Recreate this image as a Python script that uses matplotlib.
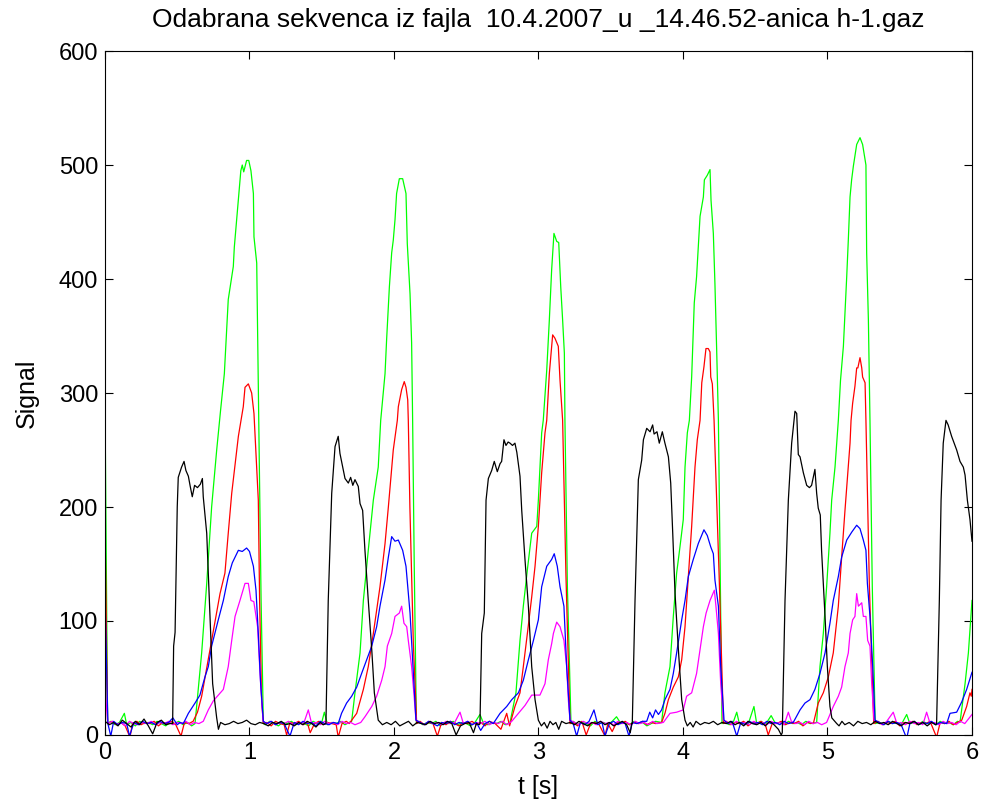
import matplotlib.pyplot as plt

plt.rcParams["font.family"] = ["Liberation Sans", "DejaVu Sans"]

# signal readings (time in s, value) per channel
t_black = [0, 0.03, 0.06, 0.09, 0.12, 0.15, 0.18, 0.21, 0.24, 0.27, 0.30, 0.33, 0.36, 0.39, 0.42, 0.45,
           0.468, 0.475, 0.485, 0.50, 0.507, 0.53, 0.547, 0.56, 0.577, 0.59, 0.604, 0.62, 0.64, 0.66, 0.674, 0.68,
           0.704, 0.722, 0.745, 0.773, 0.785, 0.80,
           0.83, 0.86, 0.89, 0.92, 0.95, 0.98, 1.01, 1.04, 1.07, 1.10, 1.13, 1.16, 1.19, 1.22, 1.25, 1.28, 1.31,
           1.34, 1.37, 1.40, 1.43, 1.46, 1.49, 1.51,
           1.529, 1.545, 1.569, 1.592, 1.614, 1.626, 1.645, 1.661, 1.684, 1.70, 1.715, 1.73, 1.753, 1.765, 1.783,
           1.799, 1.822, 1.846, 1.864, 1.891,
           1.92, 1.95, 1.98, 2.01, 2.04, 2.07, 2.10, 2.13, 2.16, 2.19, 2.22, 2.25, 2.28, 2.31, 2.34, 2.37, 2.40,
           2.43, 2.46, 2.49, 2.52, 2.55, 2.57, 2.59,
           2.595, 2.607, 2.625, 2.637, 2.653, 2.676, 2.694, 2.715, 2.734, 2.745, 2.761, 2.775, 2.79, 2.803, 2.82,
           2.837, 2.85, 2.872, 2.884, 2.907, 2.93, 2.953, 2.976, 2.999,
           3.02, 3.04, 3.06, 3.08, 3.10, 3.12, 3.14, 3.16, 3.19, 3.22, 3.25, 3.28, 3.31, 3.34, 3.37, 3.40, 3.43,
           3.46, 3.49, 3.52, 3.55, 3.58, 3.61, 3.635, 3.645,
           3.649, 3.668, 3.691, 3.714, 3.726, 3.749, 3.772, 3.79, 3.80, 3.82, 3.836, 3.857, 3.875, 3.899, 3.915,
           3.929, 3.945, 3.968, 3.991, 4.014,
           4.03, 4.05, 4.07, 4.09, 4.12, 4.15, 4.18, 4.21, 4.24, 4.27, 4.30, 4.33, 4.36, 4.39, 4.42, 4.45, 4.48,
           4.51, 4.54, 4.57, 4.60, 4.63, 4.66, 4.68,
           4.687, 4.706, 4.729, 4.752, 4.775, 4.787, 4.798, 4.81, 4.833, 4.856, 4.875, 4.89, 4.913, 4.925, 4.936,
           4.95, 4.959, 4.971, 4.983, 4.999, 5.017, 5.03, 5.064,
           5.08, 5.10, 5.12, 5.15, 5.18, 5.21, 5.24, 5.27, 5.30, 5.33, 5.36, 5.39, 5.42, 5.45, 5.48, 5.51, 5.54,
           5.57, 5.60, 5.63, 5.66, 5.69, 5.72, 5.75,
           5.755, 5.774, 5.786, 5.801, 5.82, 5.835, 5.859, 5.894, 5.917, 5.94, 5.952, 5.968, 5.986, 6.0]
v_black = [12, 9, 11, 8, 13, 10, 7, 12, 9, 14, 8, 1, 11, 13, 9, 10,
           10, 78, 90, 200, 226, 235, 240, 232, 227, 218, 209, 219, 217, 220, 225, 209,
           177, 118, 45, 15, 5, 11,
           9, 10, 12, 10, 11, 13, 10, 9, 11, 10, 8, 11, 10, 12, 9, 10, 8,
           11, 9, 12, 10, 7, 11, 9,
           10, 118, 212, 253, 262, 247, 235, 225, 221, 226, 219, 224, 218, 203, 197,
           162, 118, 75, 37, 13,
           9, 11, 9, 12, 8, 10, 12, 8, 11, 10, 9, 12, 10, 11, 9, 12, 10,
           0, 8, 10, 11, 2, 10, 9,
           10, 89, 107, 206, 225, 232, 240, 231, 238, 240, 259, 254, 257, 256, 254,
           256, 248, 227, 197, 153, 113, 60, 31, 13,
           8, 11, 6, 12, 9, 11, 5, 12, 10, 11, 9, 12, 10, 8, 11, 10, 12,
           9, 11, 8, 10, 12, 9, 2, 10,
           10, 118, 224, 241, 259, 269, 266, 272, 264, 266, 256, 266, 256, 244, 221,
           177, 124, 75, 31, 13,
           8, 11, 7, 12, 9, 11, 10, 12, 9, 11, 10, 12, 9, 11, 8, 12, 10,
           9, 11, 8, 12, 9, 5, 0,
           2, 118, 206, 256, 284, 282, 246, 244, 230, 219, 217, 219, 233, 212, 199,
           193, 162, 133, 104, 60, 25, 15, 10,
           8, 12, 9, 11, 8, 12, 10, 11, 9, 12, 10, 11, 9, 12, 10, 8, 11,
           10, 12, 9, 11, 8, 11, 9,
           10, 118, 206, 256, 276, 272, 262, 250, 240, 235, 228, 206, 189, 170]

t_green = [0, 0.018, 0.04, 0.07, 0.10, 0.134, 0.15, 0.18, 0.21, 0.24, 0.27, 0.30, 0.33, 0.36, 0.39, 0.42,
           0.45, 0.48, 0.51, 0.54, 0.57, 0.60, 0.623,
           0.669, 0.704, 0.738, 0.773, 0.80, 0.826, 0.853, 0.875, 0.888, 0.895, 0.92, 0.94, 0.95, 0.96, 0.98,
           0.995, 1.01, 1.027, 1.031, 1.05, 1.066, 1.08, 1.096,
           1.11, 1.14, 1.17, 1.20, 1.23, 1.26, 1.29, 1.32, 1.35, 1.38, 1.41, 1.44, 1.47, 1.50, 1.518, 1.54,
           1.57, 1.60, 1.63, 1.66, 1.69, 1.707,
           1.73, 1.765, 1.788, 1.822, 1.857, 1.891, 1.908, 1.938, 1.949, 1.968, 1.984, 1.995, 2.007, 2.018,
           2.037, 2.06, 2.083, 2.092, 2.111, 2.122, 2.129, 2.14, 2.155,
           2.17, 2.20, 2.23, 2.26, 2.29, 2.32, 2.35, 2.38, 2.41, 2.44, 2.47, 2.50, 2.53, 2.56, 2.595, 2.62,
           2.65, 2.68, 2.71, 2.74, 2.77, 2.803,
           2.844, 2.872, 2.895, 2.923, 2.953, 2.988, 2.999, 3.022, 3.033, 3.057, 3.075, 3.091, 3.107, 3.126,
           3.14, 3.154, 3.167, 3.179, 3.183, 3.20, 3.225,
           3.24, 3.27, 3.30, 3.33, 3.36, 3.39, 3.42, 3.45, 3.48, 3.51, 3.54, 3.57, 3.60, 3.63, 3.66, 3.69,
           3.72, 3.75, 3.78, 3.81, 3.852,
           3.875, 3.91, 3.933, 3.956, 3.979, 4.002, 4.014, 4.03, 4.044, 4.06, 4.078, 4.094, 4.118, 4.141,
           4.148, 4.168, 4.187, 4.194, 4.21, 4.221, 4.233, 4.245, 4.26, 4.27,
           4.29, 4.32, 4.35, 4.372, 4.39, 4.42, 4.45, 4.491, 4.51, 4.54, 4.57, 4.61, 4.64, 4.67, 4.70, 4.73,
           4.76, 4.79, 4.82, 4.85, 4.88, 4.925,
           4.948, 4.971, 4.994, 5.017, 5.029, 5.052, 5.075, 5.09, 5.11, 5.133, 5.144, 5.156, 5.167, 5.179,
           5.202, 5.225, 5.243, 5.266, 5.271, 5.283, 5.294, 5.31, 5.33,
           5.36, 5.39, 5.42, 5.45, 5.48, 5.51, 5.548, 5.57, 5.60, 5.63, 5.66, 5.69, 5.72, 5.75, 5.78, 5.81,
           5.84, 5.87, 5.90, 5.917,
           5.952, 5.975, 5.998, 6.0]
v_green = [292, 10, 12, 9, 11, 19, 9, 11, 8, 12, 10, 11, 9, 12, 10, 8,
           11, 10, 12, 9, 11, 8, 10,
           72, 133, 200, 250, 285, 317, 382, 400, 411, 428, 465, 495, 500, 494, 504,
           504, 495, 475, 437, 414, 259, 120, 10,
           9, 12, 10, 8, 11, 10, 12, 9, 11, 10, 8, 12, 10, 11, 20, 9,
           11, 10, 12, 9, 11, 12,
           37, 72, 118, 162, 206, 235, 276, 317, 347, 393, 423, 434, 452, 475,
           488, 488, 475, 431, 387, 344, 276, 150, 10,
           12, 9, 11, 10, 12, 8, 11, 10, 12, 9, 11, 10, 8, 11, 18, 10,
           9, 11, 10, 12, 9, 11,
           37, 83, 113, 145, 177, 183, 206, 265, 276, 320, 364, 408, 440, 433,
           432, 393, 364, 335, 276, 130, 10,
           12, 9, 11, 10, 8, 12, 10, 11, 9, 12, 16, 10, 11, 9, 12, 10,
           11, 8, 10, 12, 11,
           37, 60, 104, 142, 165, 189, 235, 265, 276, 314, 379, 402, 455, 472,
           487, 491, 496, 469, 440, 396, 338, 276, 120, 10,
           11, 9, 12, 20, 10, 11, 9, 25, 10, 12, 9, 17, 10, 11, 9, 12,
           10, 11, 9, 12, 10, 11,
           60, 89, 130, 177, 206, 235, 276, 311, 341, 402, 434, 472, 487, 499,
           518, 524, 518, 500, 423, 364, 276, 130, 10,
           11, 9, 12, 10, 11, 9, 18, 10, 11, 9, 12, 10, 11, 9, 12, 10,
           11, 9, 12, 11,
           45, 72, 115, 118]

t_red = [0, 0.018, 0.05, 0.08, 0.11, 0.14, 0.173, 0.19, 0.22, 0.25, 0.28, 0.31, 0.34, 0.37, 0.40, 0.43,
         0.46, 0.49, 0.526, 0.55, 0.58, 0.61, 0.64,
         0.669, 0.727, 0.796, 0.83, 0.853, 0.877, 0.923, 0.957, 0.969, 0.992, 1.015, 1.031, 1.04, 1.061, 1.07,
         1.084, 1.096,
         1.12, 1.15, 1.18, 1.21, 1.24, 1.257, 1.28, 1.31, 1.34, 1.37, 1.40, 1.42, 1.45, 1.48, 1.51, 1.54,
         1.57, 1.60, 1.614, 1.64, 1.67, 1.69,
         1.742, 1.788, 1.822, 1.857, 1.903, 1.938, 1.961, 1.995, 2.023, 2.03, 2.053, 2.071, 2.083, 2.095,
         2.099, 2.11, 2.134, 2.157,
         2.18, 2.21, 2.24, 2.27, 2.30, 2.33, 2.36, 2.39, 2.42, 2.45, 2.48, 2.51, 2.54, 2.57, 2.60, 2.63,
         2.66, 2.70,
         2.74, 2.78, 2.80, 2.837, 2.872, 2.895, 2.923, 2.953, 2.976, 2.999, 3.022, 3.045, 3.057, 3.075,
         3.098, 3.114, 3.137, 3.149, 3.167, 3.19, 3.218,
         3.24, 3.27, 3.30, 3.33, 3.36, 3.39, 3.42, 3.46, 3.48, 3.51, 3.54, 3.57, 3.60, 3.63, 3.66, 3.69,
         3.72, 3.75, 3.78, 3.81, 3.852,
         3.875, 3.899, 3.933, 3.968, 3.991, 4.014, 4.037, 4.06, 4.083, 4.099, 4.118, 4.13, 4.145, 4.159,
         4.175, 4.187, 4.192, 4.203, 4.215, 4.25, 4.28,
         4.30, 4.33, 4.36, 4.39, 4.42, 4.45, 4.48, 4.51, 4.54, 4.57, 4.59, 4.62, 4.65, 4.68, 4.71, 4.74,
         4.77, 4.80, 4.83, 4.86, 4.902,
         4.936, 4.971, 5.006, 5.04, 5.075, 5.098, 5.121, 5.156, 5.163, 5.174, 5.19, 5.202, 5.21, 5.225,
         5.237, 5.243, 5.26, 5.266, 5.29, 5.32,
         5.35, 5.38, 5.41, 5.44, 5.47, 5.50, 5.53, 5.56, 5.59, 5.62, 5.65, 5.68, 5.71, 5.755, 5.78, 5.81,
         5.84, 5.87, 5.90, 5.929,
         5.963, 5.986, 5.995, 6.0]
v_red = [185, 10, 12, 9, 11, 8, -2, 10, 12, 9, 11, 10, 12, 8, 11, 10,
         12, 9, -1, 11, 10, 12, 20,
         34, 75, 124, 142, 177, 212, 262, 288, 305, 308, 300, 282, 259, 206, 118,
         30, 10,
         11, 8, 12, 10, 9, 0, 11, 10, 12, 9, 11, 2, 10, 12, 9, 11,
         10, 9, -2, 10, 12, 10,
         19, 40, 60, 89, 130, 168, 200, 250, 276, 288, 303, 310, 305, 294,
         276, 200, 80, 10,
         12, 9, 11, 10, -1, 11, 9, 12, 10, 8, 11, 10, 12, 9, 11, 8,
         12, 10,
         5, 19, 8, 25, 37, 60, 89, 121, 148, 183, 230, 265, 276, 317,
         351, 348, 341, 311, 276, 140, 10,
         11, 8, 12, 0, 10, 11, 9, -1, 10, 3, 11, 10, 12, 9, 11, 10,
         12, 9, 11, 10, 11,
         19, 31, 42, 51, 66, 95, 139, 183, 235, 259, 276, 309, 323, 339,
         339, 336, 314, 308, 276, 140, 10,
         12, 9, 11, 10, 12, 8, 11, 10, 12, 9, 0, 11, 10, 12, 9, 11,
         10, 12, 8, 11, 10,
         28, 37, 51, 72, 113, 156, 197, 256, 276, 291, 306, 322, 322, 331,
         322, 314, 309, 276, 130, 10,
         12, 9, 11, 10, 12, 8, 11, 10, 12, 9, 11, 10, 12, -2, 11, 10,
         12, 9, 11, 13,
         25, 37, 34, 40]

t_blue = [0, 0.02, 0.04, 0.06, 0.09, 0.12, 0.15, 0.17, 0.20, 0.23, 0.26, 0.29, 0.32, 0.35, 0.38, 0.41,
          0.44, 0.47, 0.50, 0.52, 0.542,
          0.577, 0.623, 0.657, 0.692, 0.715, 0.738, 0.784, 0.819, 0.853, 0.881, 0.923, 0.95, 0.98, 1.0,
          1.027, 1.045, 1.061, 1.077, 1.096,
          1.12, 1.15, 1.18, 1.21, 1.24, 1.28, 1.31, 1.34, 1.37, 1.40, 1.43, 1.46, 1.49, 1.52, 1.55, 1.58, 1.614,
          1.637, 1.672, 1.707, 1.742, 1.776, 1.811, 1.846, 1.88, 1.903, 1.938, 1.961, 1.984, 2.007, 2.03,
          2.06, 2.083, 2.111, 2.134, 2.152,
          2.18, 2.21, 2.24, 2.27, 2.30, 2.33, 2.36, 2.39, 2.42, 2.45, 2.48, 2.51, 2.54, 2.57, 2.60, 2.63,
          2.66, 2.687,
          2.734, 2.78, 2.815, 2.861, 2.895, 2.93, 2.965, 2.999, 3.022, 3.057, 3.091, 3.109, 3.13, 3.149,
          3.176, 3.195, 3.218,
          3.24, 3.264, 3.29, 3.32, 3.35, 3.384, 3.41, 3.44, 3.46, 3.49, 3.52, 3.55, 3.58, 3.60, 3.626, 3.65,
          3.68, 3.72,
          3.749, 3.77, 3.79, 3.81, 3.83, 3.852, 3.875, 3.91, 3.933, 3.956, 3.991, 4.014, 4.037, 4.071, 4.106,
          4.145, 4.168, 4.192, 4.21, 4.221, 4.245, 4.261, 4.284,
          4.31, 4.34, 4.372, 4.40, 4.43, 4.46, 4.49, 4.52, 4.55, 4.58, 4.61, 4.64, 4.67, 4.70, 4.73, 4.763,
          4.81, 4.844, 4.879, 4.913, 4.948, 4.983, 5.017, 5.04, 5.075, 5.098, 5.133, 5.168, 5.202, 5.225,
          5.248, 5.266, 5.276, 5.294, 5.313, 5.329,
          5.36, 5.39, 5.42, 5.45, 5.48, 5.51, 5.548, 5.57, 5.60, 5.63, 5.66, 5.69, 5.72, 5.75, 5.78, 5.825,
          5.848, 5.894, 5.929, 5.963, 5.998, 6.0]
v_blue = [122, 10, -1, 12, 9, 11, 10, -1, 11, 9, 12, 10, 11, 9, 12, 10,
          11, 15, 9, 11, 10,
          19, 28, 35, 51, 60, 78, 101, 118, 139, 151, 162, 161, 164, 161,
          148, 127, 89, 45, 12,
          10, 12, 9, 11, 10, -1, 11, 9, 12, 10, 11, 8, 12, 10, 9, 11, 10,
          19, 28, 34, 42, 54, 66, 78, 95, 113, 136, 156, 174, 170, 171,
          162, 148, 107, 54, 13,
          11, 9, 12, 10, 8, 11, 10, 12, 9, 11, 10, 12, 9, 11, 4, 10,
          12, 10,
          19, 25, 31, 37, 48, 66, 83, 101, 130, 148, 154, 159, 148, 130,
          113, 60, 13,
          10, -1, 11, 9, 12, 22, 9, 11, -1, 10, 12, 9, 11, 10, -1, 11,
          10, 12,
          12, 20, 15, 22, 18, 22, 31, 40, 54, 72, 101, 118, 139, 154, 168,
          180, 175, 165, 159, 136, 113, 60, 13,
          10, 12, -1, 11, 9, 12, 10, 11, 9, 12, 10, 11, 9, 12, 10, 11,
          22, 28, 31, 40, 54, 72, 98, 118, 139, 156, 171, 178, 184, 181,
          171, 162, 133, 104, 60, 13,
          11, 9, 12, 10, 11, 9, -3, 10, 12, 9, 11, 10, 12, 9, 11, 10,
          19, 20, 29, 40, 54, 55]

t_magenta = [0, 0.02, 0.05, 0.08, 0.11, 0.14, 0.17, 0.20, 0.23, 0.26, 0.29, 0.32, 0.35, 0.38, 0.41, 0.44,
             0.47, 0.50, 0.53, 0.56, 0.59, 0.62, 0.65,
             0.68, 0.715, 0.75, 0.784, 0.819, 0.853, 0.877, 0.9, 0.934, 0.969, 0.992, 1.01, 1.03, 1.056,
             1.073, 1.094,
             1.12, 1.15, 1.18, 1.21, 1.24, 1.27, 1.30, 1.33, 1.36, 1.38, 1.407, 1.43, 1.46, 1.49, 1.52, 1.55,
             1.58, 1.61, 1.64, 1.67, 1.70, 1.73, 1.77,
             1.799, 1.846, 1.88, 1.915, 1.938, 1.954, 1.984, 2.007, 2.037, 2.053, 2.069, 2.088, 2.099, 2.122,
             2.138, 2.152,
             2.18, 2.21, 2.24, 2.27, 2.30, 2.33, 2.36, 2.39, 2.42, 2.457, 2.48, 2.51, 2.54, 2.57, 2.60, 2.63,
             2.66, 2.69, 2.72, 2.75, 2.78, 2.815,
             2.861, 2.907, 2.953, 3.01, 3.045, 3.068, 3.091, 3.103, 3.126, 3.149, 3.176, 3.195, 3.207, 3.218,
             3.25, 3.28, 3.31, 3.34, 3.37, 3.40, 3.43, 3.46, 3.49, 3.52, 3.55, 3.58, 3.61, 3.64, 3.67, 3.70,
             3.73, 3.76, 3.79, 3.82, 3.864,
             3.91, 3.956, 4.002, 4.025, 4.06, 4.094, 4.118, 4.141, 4.16, 4.187, 4.217, 4.228, 4.245, 4.261,
             4.28,
             4.31, 4.34, 4.37, 4.40, 4.43, 4.46, 4.49, 4.52, 4.55, 4.58, 4.61, 4.64, 4.67, 4.70, 4.729, 4.75,
             4.78, 4.81, 4.84, 4.87, 4.90, 4.93, 4.96, 4.994,
             5.04, 5.075, 5.098, 5.121, 5.144, 5.156, 5.174, 5.19, 5.202, 5.214, 5.237, 5.248, 5.266, 5.278,
             5.294, 5.306, 5.322,
             5.35, 5.38, 5.41, 5.455, 5.48, 5.51, 5.54, 5.57, 5.60, 5.63, 5.66, 5.686, 5.71, 5.74, 5.77, 5.80,
             5.83, 5.86, 5.89, 5.92, 5.95, 6.0]
v_magenta = [40, 10, 12, 9, 11, 8, 12, 10, 9, 11, 10, 12, 9, 11, 10, 12,
             9, 11, 10, 12, 9, 11, 10,
             12, 22, 30, 35, 40, 60, 83, 104, 118, 133, 133, 118, 117, 95,
             54, 12,
             10, 12, 9, 11, 10, 12, 9, 11, 10, 12, 22, 10, 11, 9, 12, 10,
             11, 9, 12, 10, 11, 9, 11,
             16, 25, 34, 48, 60, 78, 89, 104, 107, 113, 98, 95, 83, 60,
             36, 13,
             11, 9, 12, 10, 11, 9, 12, 10, 11, 20, 10, 12, 9, 11, 10, 12,
             9, 11, 10, 12, 9, 12,
             19, 26, 35, 35, 45, 66, 80, 89, 99, 95, 83, 60, 30, 13,
             11, 9, 12, 10, 11, 9, 12, 10, 11, 9, 12, 10, 11, 9, 12, 10,
             11, 9, 12, 10, 11,
             19, 20, 22, 34, 37, 54, 75, 95, 107, 118, 127, 113, 89, 45,
             13,
             11, 9, 12, 10, 11, 9, 12, 10, 11, 9, 12, 10, 11, 9, 20, 12,
             10, 11, 9, 12, 10, 11, 9, 11,
             25, 34, 42, 60, 72, 89, 101, 104, 124, 113, 116, 104, 104, 83,
             78, 45, 13,
             11, 9, 12, 20, 10, 11, 9, 12, 10, 11, 9, 20, 10, 11, 9, 12,
             10, 11, 9, 12, 10, 18]

fig = plt.figure(figsize=(9.84, 8.06), dpi=100)
ax = fig.add_axes([0.1067, 0.0881, 0.8811, 0.8486])

lw = 0.9
ax.plot(t_green, v_green, color=(0, 1, 0), lw=lw)
ax.plot(t_red, v_red, color=(1, 0, 0), lw=lw)
ax.plot(t_magenta, v_magenta, color=(1, 0, 1), lw=lw)
ax.plot(t_blue, v_blue, color=(0, 0, 1), lw=lw)
ax.plot(t_black, v_black, color="k", lw=lw)

ax.set_xlim(0, 6)
ax.set_ylim(0, 600)
ax.set_xticks(range(0, 7))
ax.set_yticks(range(0, 601, 100))
ax.tick_params(direction="in", length=6, width=0.8, top=True, right=True, labelsize=17, pad=5)
for s in ax.spines.values():
    s.set_linewidth(0.8)

ax.set_title("Odabrana sekvenca iz fajla  10.4.2007_u _14.46.52-anica h-1.gaz", fontsize=19, pad=17)
ax.set_xlabel("t [s]", fontsize=18, labelpad=8)
ax.set_ylabel("Signal", fontsize=18, labelpad=14)

plt.savefig("out.png", dpi=100)
